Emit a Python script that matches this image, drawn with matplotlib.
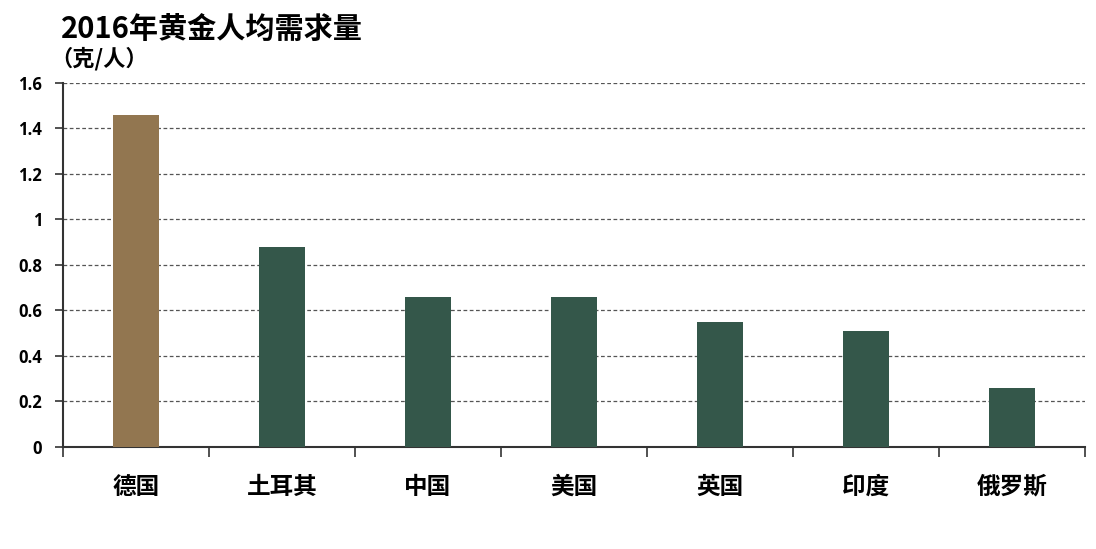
import matplotlib
matplotlib.use("Agg")
import matplotlib.pyplot as plt
import numpy as np

plt.rcParams['font.family'] = ['Noto Sans CJK SC', 'DejaVu Sans']

countries = ['德国', '土耳其', '中国', '美国', '英国', '印度', '俄罗斯']
values = [1.46, 0.88, 0.66, 0.66, 0.55, 0.51, 0.26]
yticks = [0, 0.2, 0.4, 0.6, 0.8, 1, 1.2, 1.4, 1.6]
ytick_labels = ['0', '0.2', '0.4', '0.6', '0.8', '1', '1.2', '1.4', '1.6']

brown = '#927650'
green = '#34574A'
colors = [brown] + [green] * (len(countries) - 1)

fig = plt.figure(figsize=(10.96, 5.49), dpi=100)
ax = fig.add_axes([0.0575, 0.186, 0.9325, 0.663])

x = np.arange(len(countries))
ax.bar(x, values, width=0.31, color=colors, zorder=3)

ax.set_xlim(-0.5, len(countries) - 0.5)
ax.set_ylim(0, 1.6)
ax.set_yticks(yticks)
ax.set_yticklabels(ytick_labels, fontsize=12, fontweight='bold', family=['Open Sans', 'DejaVu Sans'])
ax.yaxis.grid(True, linestyle=(0, (3, 2)), color='#555555', linewidth=0.9, zorder=0)

ax.set_xticks(x)
ax.set_xticklabels(countries, fontsize=17, fontweight='bold')
ax.tick_params(axis='x', which='major', length=0, pad=20)
ax.set_xticks(np.arange(len(countries) + 1) - 0.5, minor=True)
ax.tick_params(axis='x', which='minor', length=7, width=1.2, color='#333333', direction='out')
ax.tick_params(axis='y', length=6, width=1.2, color='#333333', pad=9)

for s in ['top', 'right']:
    ax.spines[s].set_visible(False)
for s in ['left', 'bottom']:
    ax.spines[s].set_color('#333333')
    ax.spines[s].set_linewidth(1.5)

fig.text(0.056, 0.948, '2016年黄金人均需求量', fontsize=21, fontweight='bold', va='center', ha='left')
fig.text(0.046, 0.893, '（克/人）', fontsize=16, fontweight='bold', va='center', ha='left')

fig.savefig('out.png', dpi=100)
